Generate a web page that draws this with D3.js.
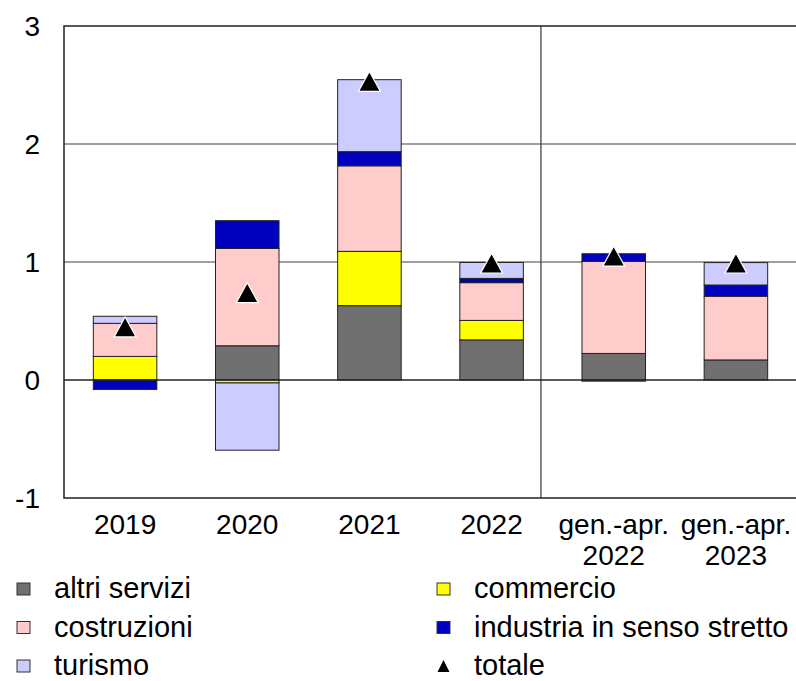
<!DOCTYPE html>
<html lang="it">
<head>
  <meta charset="UTF-8">
  <title>Contributi alla crescita</title>
  <script src="https://cdn.jsdelivr.net/npm/d3@7"></script>
</head>
<body style="margin:0; background:#fff;">
<script>
  // valori (punti percentuali)
  const categories = ["2019", "2020", "2021", "2022", "gen.-apr.\n2022", "gen.-apr.\n2023"];
  const altriServizi = [0.00, 0.29, 0.63, 0.34, 0.225, 0.17];
  const commercio = [0.20, -0.025, 0.46, 0.165, -0.01, 0.00];
  const costruzioni = [0.28, 0.825, 0.725, 0.32, 0.78, 0.54];
  const industria = [-0.08, 0.235, 0.12, 0.036, 0.065, 0.095];
  const turismo = [0.06, -0.57, 0.61, 0.135, 0.00, 0.19];
  const totale = [0.45, 0.74, 2.53, 0.99, 1.05, 0.99];
  const yTicks = [-1, 0, 1, 2, 3];

  const series = [
    {key: "altri servizi", values: altriServizi, color: "#707070"},
    {key: "commercio", values: commercio, color: "#FFFF00"},
    {key: "costruzioni", values: costruzioni, color: "#FFCCCC"},
    {key: "industria in senso stretto", values: industria, color: "#0000BF"},
    {key: "turismo", values: turismo, color: "#CCCCFF"}
  ];

  const width = 796, height = 681;
  const plotLeft = 64, plotRight = 797, plotTop = 26, plotBottom = 498;
  const font = "'Liberation Sans', Arial, sans-serif";

  const rows = categories.map((c, i) => {
    const r = {cat: c};
    series.forEach(s => r[s.key] = s.values[i]);
    return r;
  });

  const x = d3.scaleBand().domain(categories).range([plotLeft, plotRight])
          .paddingInner(0.48).paddingOuter(0.24);
  const y = d3.scaleLinear().domain([-1, 3]).range([plotBottom, plotTop]);

  const svg = d3.select("body").append("svg")
          .attr("width", width)
          .attr("height", height)
          .style("display", "block")
          .style("font-family", font);

  // griglia
  svg.append("g")
          .selectAll("line")
          .data([1, 2])
          .enter()
          .append("line")
          .attr("x1", plotLeft).attr("x2", plotRight)
          .attr("y1", d => y(d)).attr("y2", d => y(d))
          .attr("stroke", "#7f7f7f")
          .attr("stroke-width", 1.3);

  // separatore tra anni e periodi gen.-apr.
  const sepX = x(categories[3]) + x.bandwidth() + (x.step() - x.bandwidth()) * 0.3;
  svg.append("line")
          .attr("x1", sepX).attr("x2", sepX)
          .attr("y1", plotTop).attr("y2", plotBottom)
          .attr("stroke", "#444")
          .attr("stroke-width", 1.3);

  const stack = d3.stack()
          .keys(series.map(s => s.key))
          .offset(d3.stackOffsetDiverging);
  const stacked = stack(rows);

  svg.append("g")
          .selectAll("g")
          .data(stacked)
          .enter()
          .append("g")
          .attr("fill", (d, i) => series[i].color)
          .selectAll("rect")
          .data(d => d)
          .enter()
          .append("rect")
          .attr("x", d => x(d.data.cat))
          .attr("width", x.bandwidth())
          .attr("y", d => y(Math.max(d[0], d[1])))
          .attr("height", d => Math.abs(y(d[0]) - y(d[1])))
          .attr("stroke", "#222")
          .attr("stroke-width", 1);

  // linea dello zero e cornice
  svg.append("line")
          .attr("x1", plotLeft).attr("x2", plotRight)
          .attr("y1", y(0)).attr("y2", y(0))
          .attr("stroke", "#222")
          .attr("stroke-width", 1.3);

  svg.append("path")
          .attr("d", `M${plotRight},${plotTop}H${plotLeft}V${plotBottom}H${plotRight}`)
          .attr("fill", "none")
          .attr("stroke", "#222")
          .attr("stroke-width", 1.5);

  // totale
  const tri = (w, h) => `M0,${-h / 2}L${w / 2},${h / 2}L${-w / 2},${h / 2}Z`;
  svg.append("g")
          .selectAll("path")
          .data(totale)
          .enter()
          .append("path")
          .attr("d", tri(22, 20))
          .attr("transform", (d, i) => `translate(${x(categories[i]) + x.bandwidth() / 2},${y(d)})`)
          .attr("fill", "#000")
          .attr("stroke", "#fff")
          .attr("stroke-width", 1.2);

  // asse y
  svg.append("g")
          .selectAll("text")
          .data(yTicks)
          .enter()
          .append("text")
          .attr("x", 40)
          .attr("y", d => y(d) + 10)
          .attr("text-anchor", "end")
          .attr("font-size", 28)
          .attr("fill", "#000")
          .text(d => d);

  // asse x
  const xl = svg.append("g")
          .selectAll("text")
          .data(categories)
          .enter()
          .append("text")
          .attr("text-anchor", "middle")
          .attr("font-size", 28)
          .attr("fill", "#000")
          .attr("x", d => x(d) + x.bandwidth() / 2)
          .attr("y", 534);
  xl.selectAll("tspan")
          .data(d => d.split("\n"))
          .enter()
          .append("tspan")
          .attr("x", function () { return this.parentNode.getAttribute("x"); })
          .attr("dy", (d, i) => i === 0 ? 0 : 31)
          .text(d => d);

  // legenda
  const legendItems = [
    {label: "altri servizi", color: "#707070"},
    {label: "commercio", color: "#FFFF00"},
    {label: "costruzioni", color: "#FFCCCC"},
    {label: "industria in senso stretto", color: "#0000BF"},
    {label: "turismo", color: "#CCCCFF"},
    {label: "totale", marker: true}
  ];
  const lg = svg.append("g")
          .selectAll("g")
          .data(legendItems)
          .enter()
          .append("g")
          .attr("transform", (d, i) => `translate(${i % 2 === 0 ? 17 : 437},${589 + Math.floor(i / 2) * 38.5})`);
  lg.filter(d => !d.marker)
          .append("rect")
          .attr("x", 0).attr("y", -6)
          .attr("width", 13).attr("height", 12)
          .attr("fill", d => d.color)
          .attr("stroke", "#333")
          .attr("stroke-width", 1);
  lg.filter(d => d.marker)
          .append("path")
          .attr("d", tri(12, 12))
          .attr("transform", "translate(6.5,0)")
          .attr("fill", "#000");
  lg.append("text")
          .attr("x", 37)
          .attr("y", 9)
          .attr("font-size", 29)
          .attr("fill", "#000")
          .text(d => d.label);
</script>
</body>
</html>
